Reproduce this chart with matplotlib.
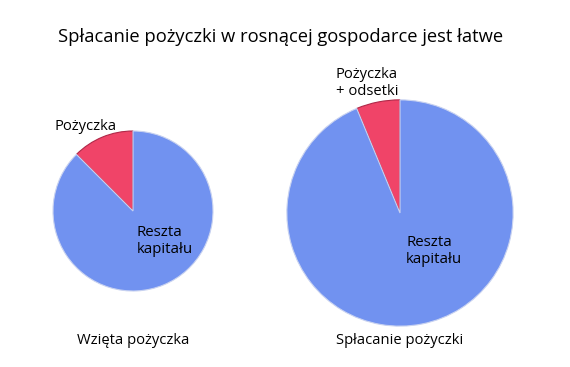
import matplotlib.pyplot as plt

# shares of each pie: loan (+interest) vs rest of capital
labels_in = ['Pożyczka', 'Reszta\nkapitału']
left_vals = [1 / 8, 7 / 8]
right_vals = [1 / 16, 15 / 16]
# economy doubles -> right pie has twice the area
left_size = 1.0
right_size = 2.0
titles = ['Wzięta pożyczka', 'Spłacanie pożyczki']

blue = '#7192f0'
red = '#f04468'

plt.rcParams['font.family'] = ['Open Sans', 'DejaVu Sans']

W, H = 570, 367
fig = plt.figure(figsize=(W / 100, H / 100), dpi=100)
ax = fig.add_axes([0, 0, 1, 1])
ax.set_xlim(0, W)
ax.set_ylim(0, H)
ax.set_aspect('equal')
ax.axis('off')

r0 = 80
r1 = r0 * (right_size / left_size) ** 0.5

wl, _ = ax.pie(left_vals, colors=[red, blue], startangle=90, center=(133, H - 211),
               radius=r0, wedgeprops=dict(edgecolor='#c8d2f0', linewidth=0.8))
wr, _ = ax.pie(right_vals, colors=[red, blue], startangle=90, center=(400, H - 213),
               radius=r1, wedgeprops=dict(edgecolor='#c8d2f0', linewidth=0.8))
for w in (wl[0], wr[0]):
    w.set_edgecolor('#b02848')

ax.set_xlim(0, W)
ax.set_ylim(0, H)

ax.text(W / 2 - 4, H - 37, 'Spłacanie pożyczki w rosnącej gospodarce jest łatwe',
        ha='center', va='center', fontsize=13.2)
ax.text(85.5, H - 127, labels_in[0], ha='center', va='center', fontsize=10.6)
ax.text(137, H - 241, labels_in[1], ha='left', va='center', fontsize=10.8,
        linespacing=1.2)
ax.text(367, H - 83, 'Pożyczka\n+ odsetki', ha='center', va='center', fontsize=10.6,
        linespacing=1.1)
ax.text(406, H - 251, labels_in[1], ha='left', va='center', fontsize=10.8,
        linespacing=1.2)
ax.text(133, H - 341, titles[0], ha='center', va='center', fontsize=10.6)
ax.text(400, H - 341, titles[1], ha='center', va='center', fontsize=10.6)

fig.savefig('out.png', dpi=100)
